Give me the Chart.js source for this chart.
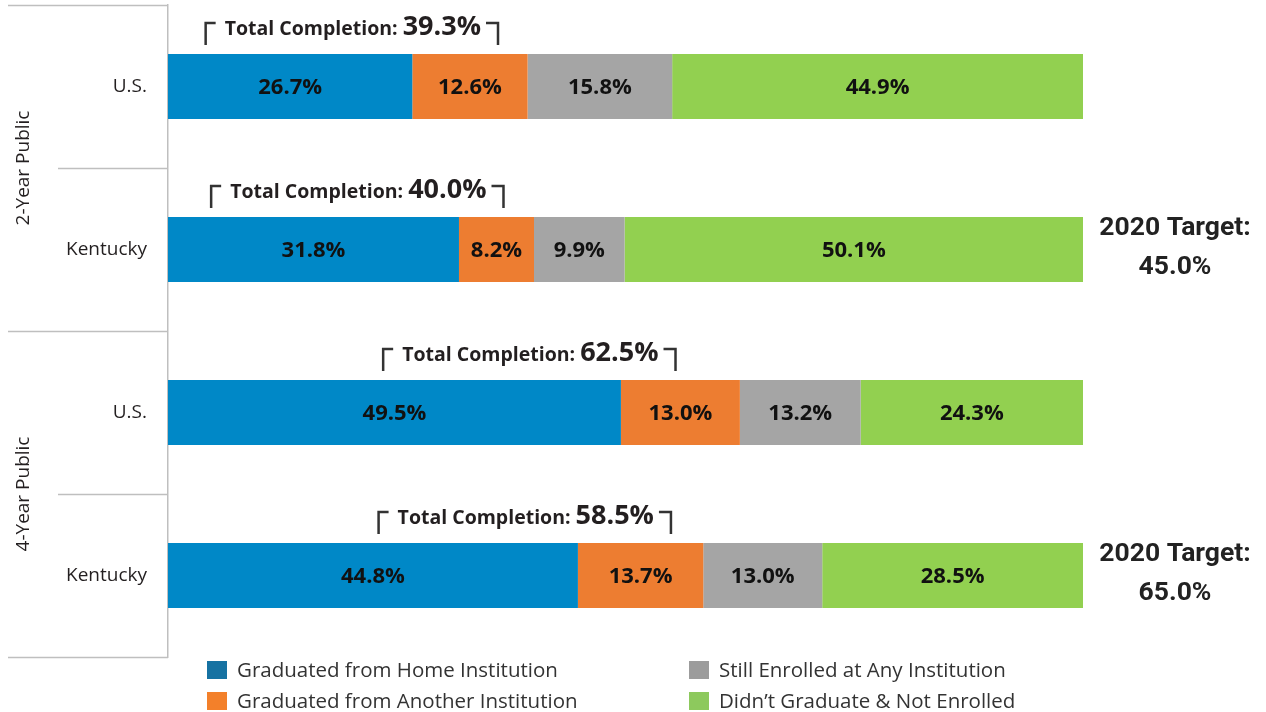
<!DOCTYPE html>
<html>
<head>
<meta charset="utf-8">
<script src="https://cdn.jsdelivr.net/npm/chart.js@4.4.1/dist/chart.umd.min.js"></script>
<style>
  html, body { margin: 0; padding: 0; background: #fff; }
  #wrap { width: 1266px; height: 712px; }
</style>
</head>
<body>
<div id="wrap"><canvas id="chart" width="1266" height="712"></canvas></div>
<script>
// data
const rowLabels = ["U.S.", "Kentucky", "U.S.", "Kentucky"];
const groupLabels = ["2-Year Public", "4-Year Public"];
const seriesNames = [
    "Graduated from Home Institution",
    "Graduated from Another Institution",
    "Still Enrolled at Any Institution",
    "Didn\u2019t Graduate & Not Enrolled"
];
const gradHome = [26.7, 31.8, 49.5, 44.8];
const gradOther = [12.6, 8.2, 13.0, 13.7];
const stillEnrolled = [15.8, 9.9, 13.2, 13.0];
const notEnrolled = [44.9, 50.1, 24.3, 28.5];
const totalCompletion = [39.3, 40.0, 62.5, 58.5];
const targets = [null, 45.0, null, 65.0];

const barColors = ["#0088C7", "#ED7D31", "#A5A5A5", "#92D050"];
const legendColors = ["#1672A2", "#F3802A", "#9C9C9C", "#8DC95D"];
// where the "Total Completion" label is centred, in x-scale units
const bracketAnchor = [20.2, 20.8, 39.6, 39.1];

const LINE = "#BFBFBF";
const TEXT = "#231F20";

function fmt(v) { return v.toFixed(1) + "%"; }

// segment labels, brackets, targets, group labels, separators and legend
const extrasPlugin = {
    id: "extras",
    afterDatasetsDraw(chart) {
        const ctx = chart.ctx;
        ctx.save();
        ctx.fillStyle = "#111";
        ctx.font = "bold 22px 'Open Sans'";
        ctx.textAlign = "center";
        ctx.textBaseline = "middle";
        chart.data.datasets.forEach((ds, di) => {
            chart.getDatasetMeta(di).data.forEach((bar, i) => {
                ctx.fillText(fmt(ds.data[i]), (bar.x + bar.base) / 2, bar.y + 1);
            });
        });
        ctx.restore();
    },
    afterDraw(chart) {
        const ctx = chart.ctx;
        const x = chart.scales.x;
        const y = chart.scales.y;
        const band = (y.getPixelForValue(1) - y.getPixelForValue(0));
        ctx.save();

        // separators on the category axis
        ctx.strokeStyle = LINE;
        ctx.lineWidth = 1.5;
        for (let k = 0; k <= rowLabels.length; k++) {
            const yy = Math.round(y.getPixelForValue(k) - band / 2) + 0.5;
            const x0 = (k % 2 === 0) ? 8 : 58;
            ctx.beginPath();
            ctx.moveTo(x0, yy);
            ctx.lineTo(x.left, yy);
            ctx.stroke();
        }

        // group labels
        ctx.fillStyle = TEXT;
        ctx.font = "19px 'Open Sans'";
        ctx.textAlign = "center";
        ctx.textBaseline = "middle";
        groupLabels.forEach((g, gi) => {
            const cy = (y.getPixelForValue(gi * 2) + y.getPixelForValue(gi * 2 + 1)) / 2;
            ctx.save();
            ctx.translate(24, cy);
            ctx.rotate(-Math.PI / 2);
            ctx.fillText(g, 0, 0);
            ctx.restore();
        });

        // total completion brackets
        const meta = chart.getDatasetMeta(0);
        totalCompletion.forEach((tc, i) => {
            const bar = meta.data[i];
            const top = bar.y - bar.height / 2;
            const t1 = "Total Completion: ";
            const t2 = fmt(tc);
            ctx.font = "bold 19.5px 'Open Sans'";
            const w1 = ctx.measureText(t1).width;
            ctx.font = "bold 27px 'Open Sans'";
            const w2 = ctx.measureText(t2).width;
            const cx = x.getPixelForValue(bracketAnchor[i]);
            const xs = cx - (w1 + w2) / 2;
            const xe = xs + w1 + w2;
            const base = top - 19;
            ctx.fillStyle = TEXT;
            ctx.textAlign = "left";
            ctx.textBaseline = "alphabetic";
            ctx.font = "bold 19.5px 'Open Sans'";
            ctx.fillText(t1, xs, base);
            ctx.font = "bold 27px 'Open Sans'";
            ctx.fillText(t2, xs + w1, base);

            ctx.strokeStyle = "#333";
            ctx.lineWidth = 2.5;
            ctx.lineCap = "butt";
            ctx.beginPath();
            ctx.moveTo(xs - 19, top - 9);
            ctx.lineTo(xs - 19, top - 31);
            ctx.lineTo(xs - 9, top - 31);
            ctx.moveTo(xe + 5, top - 31);
            ctx.lineTo(xe + 17, top - 31);
            ctx.lineTo(xe + 17, top - 9);
            ctx.stroke();
        });

        // 2020 targets
        ctx.fillStyle = "#222";
        ctx.font = "bold 26.5px Roboto";
        ctx.textAlign = "center";
        ctx.textBaseline = "middle";
        targets.forEach((t, i) => {
            if (t === null) return;
            const cy = y.getPixelForValue(i);
            ctx.fillText("2020 Target:", 1175, cy - 21);
            ctx.fillText(fmt(t), 1175, cy + 18);
        });

        // legend, two columns
        const colX = [207, 689];
        const rowY = [670, 701];
        ctx.font = "20.5px 'Open Sans'";
        ctx.textAlign = "left";
        ctx.textBaseline = "middle";
        const order = [[0, 0, 0], [1, 0, 1], [2, 1, 0], [3, 1, 1]];
        order.forEach(([si, c, r]) => {
            ctx.fillStyle = legendColors[si];
            ctx.fillRect(colX[c], rowY[r] - 9, 20, 18);
            ctx.fillStyle = "#333";
            ctx.fillText(seriesNames[si], colX[c] + 30, rowY[r] + 1);
        });

        ctx.restore();
    }
};

const datasets = [gradHome, gradOther, stillEnrolled, notEnrolled].map((vals, i) => ({
    label: seriesNames[i],
    data: vals,
    backgroundColor: barColors[i],
    borderWidth: 0,
    categoryPercentage: 0.4,
    barPercentage: 1.0
}));

new Chart(document.getElementById("chart").getContext("2d"), {
    type: "bar",
    data: { labels: rowLabels, datasets },
    options: {
        responsive: false,
        animation: false,
        indexAxis: "y",
        layout: { padding: { left: 0, right: 183, top: 5, bottom: 55 } },
        plugins: {
            legend: { display: false },
            tooltip: { enabled: false }
        },
        scales: {
            x: {
                stacked: true,
                min: 0,
                max: 100,
                display: false
            },
            y: {
                stacked: true,
                grid: { display: false, drawTicks: false },
                border: { display: true, color: LINE, width: 1.5 },
                ticks: {
                    padding: 21,
                    color: TEXT,
                    font: { family: "'Open Sans'", size: 19 }
                },
                afterFit(scale) {
                    scale.width = 168;
                    scale.paddingTop = 0;
                    scale.paddingBottom = 0;
                }
            }
        }
    },
    plugins: [extrasPlugin]
});
</script>
</body>
</html>
